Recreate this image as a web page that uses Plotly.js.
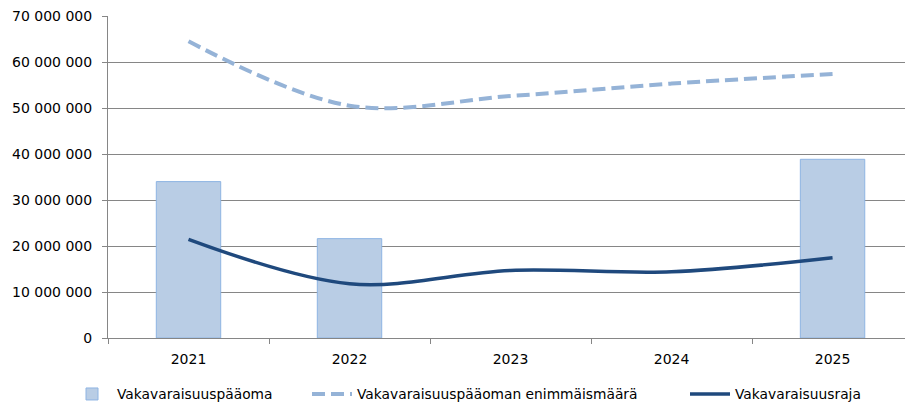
<!DOCTYPE html>
<html>
<head>
<meta charset="utf-8">
<script src="https://cdn.plot.ly/plotly-3.0.1.min.js"></script>
<style>
  html, body { margin: 0; padding: 0; background: #ffffff; }
  #chart { width: 905px; height: 405px; }
</style>
</head>
<body>
<div id="chart"></div>
<script>
const years = ['2021', '2022', '2023', '2024', '2025'];
const capital = [34000000, 21600000, null, null, 38850000];
const maxAmount = [64500000, 50500000, 52600000, 55300000, 57400000];
const solvencyLimit = [21450000, 11800000, 14700000, 14400000, 17450000];
const seriesNames = ['Vakavaraisuuspääoma', 'Vakavaraisuuspääoman enimmäismäärä', 'Vakavaraisuusraja'];
const yTickVals = [0, 10000000, 20000000, 30000000, 40000000, 50000000, 60000000, 70000000];
const yTickText = ['0', '10 000 000', '20 000 000', '30 000 000', '40 000 000', '50 000 000', '60 000 000', '70 000 000'];

const FONT = 'DejaVu Sans, Verdana, sans-serif';

const traces = [
  {
    type: 'bar',
    name: seriesNames[0],
    x: years,
    y: capital,
    width: 0.4,
    marker: { color: '#B9CDE5', line: { color: '#8EB4E3', width: 1 } },
    legend: 'legend'
  },
  {
    type: 'scatter',
    mode: 'lines',
    name: seriesNames[1],
    x: years,
    y: maxAmount,
    line: { color: '#95B3D7', width: 4, dash: '13px,6px', shape: 'spline', smoothing: 1 },
    legend: 'legend2'
  },
  {
    type: 'scatter',
    mode: 'lines',
    name: seriesNames[2],
    x: years,
    y: solvencyLimit,
    line: { color: '#1F497D', width: 3.5, shape: 'spline', smoothing: 1 },
    legend: 'legend3'
  }
];

const legendBase = {
  orientation: 'h',
  xref: 'container', yref: 'container',
  xanchor: 'left', yanchor: 'middle',
  y: 1 - 394 / 405,
  font: { family: FONT, size: 13.8, color: '#000000' },
  bgcolor: 'rgba(0,0,0,0)',
  itemwidth: 40
};

const layout = {
  width: 905,
  height: 405,
  margin: { l: 108, r: 0, t: 16, b: 67, pad: 0 },
  paper_bgcolor: '#ffffff',
  plot_bgcolor: '#ffffff',
  font: { family: FONT, size: 14, color: '#000000' },
  showlegend: true,
  legend: Object.assign({}, legendBase, { x: 67 / 905 }),
  legend2: Object.assign({}, legendBase, { x: 307 / 905 }),
  legend3: Object.assign({}, legendBase, { x: 685 / 905 }),
  xaxis: {
    type: 'category',
    range: [-0.5, 4.45],
    showgrid: false,
    showline: true,
    linecolor: '#868686',
    linewidth: 1,
    ticks: 'outside',
    tickson: 'boundaries',
    ticklen: 5,
    tickcolor: '#868686',
    ticklabelstandoff: 8,
    tickfont: { family: FONT, size: 14, color: '#000000' },
    zeroline: false,
    fixedrange: true
  },
  yaxis: {
    range: [0, 70000000],
    tickvals: yTickVals,
    ticktext: yTickText,
    showgrid: true,
    gridcolor: '#868686',
    gridwidth: 1,
    showline: true,
    linecolor: '#868686',
    linewidth: 1,
    ticks: 'outside',
    ticklen: 5,
    tickcolor: '#868686',
    ticklabelstandoff: 7,
    tickfont: { family: FONT, size: 14, color: '#000000' },
    zeroline: false,
    fixedrange: true
  },
  bargap: 0.6
};

Plotly.newPlot('chart', traces, layout, { displayModeBar: false, staticPlot: true });
</script>
</body>
</html>
